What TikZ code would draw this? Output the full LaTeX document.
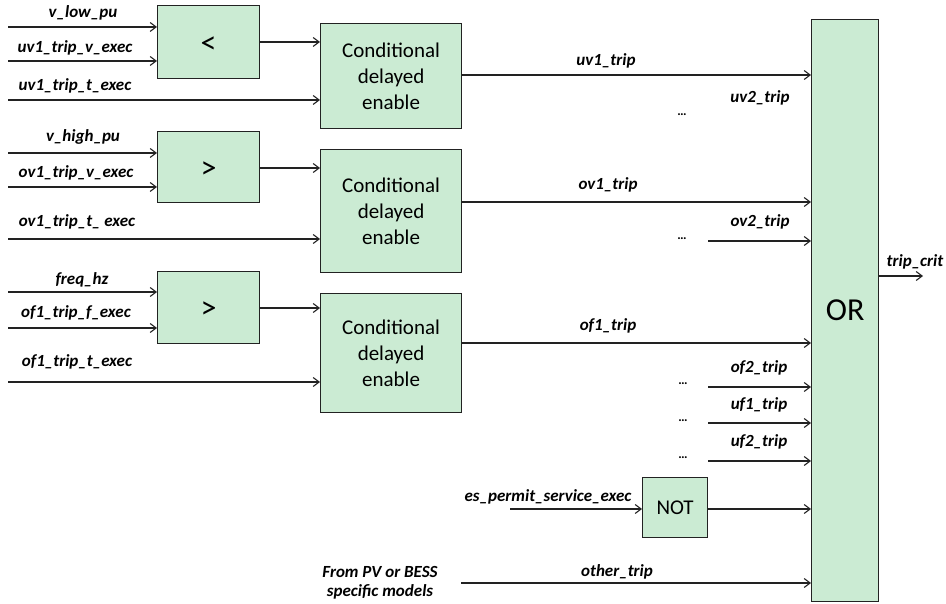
\documentclass[tikz,border=0pt]{standalone}
\usepackage{fontspec}
\setmainfont{Carlito}
\usetikzlibrary{arrows.meta}
\definecolor{blockgreen}{HTML}{CBEBD3}
\definecolor{linegray}{HTML}{222222}

\begin{document}
\begin{tikzpicture}[x=1pt,y=-1pt,
  blk/.style={draw=linegray, line width=1.2pt, fill=blockgreen, inner sep=0pt, anchor=north west},
  sig/.style={line width=1.2pt, draw=linegray,
    -{Straight Barb[length=6pt,width=9pt,line width=1.1pt]}},
  lbl/.style={font=\fontsize{17}{19}\selectfont\bfseries\itshape, inner sep=0pt},
  more/.style={font=\fontsize{13}{13}\selectfont\bfseries, inner sep=0pt},
  cmptext/.style={font=\fontsize{32}{32}\selectfont},
  cdetext/.style={font=\fontsize{21}{26}\selectfont, align=center}]

\useasboundingbox (0,0) rectangle (946,604);

% ---------------- comparison blocks ----------------
\node[blk, minimum width=102pt, minimum height=73pt] (cmpA) at (157,5) {};
\node[cmptext] at ([yshift=-3pt]cmpA.center) {<};
\node[blk, minimum width=102pt, minimum height=71pt] (cmpB) at (157,131) {};
\node[cmptext] at ([yshift=-3pt]cmpB.center) {>};
\node[blk, minimum width=102pt, minimum height=72pt] (cmpC) at (157,271) {};
\node[cmptext] at ([yshift=-3pt]cmpC.center) {>};

% ---------------- conditional delayed enable blocks ----------------
\node[blk, minimum width=141pt, minimum height=105pt] (cdeA) at (320,23) {};
\node[cdetext] at (cdeA.center) {Conditional\\delayed\\enable};
\node[blk, minimum width=141pt, minimum height=123pt] (cdeB) at (320,149) {};
\node[cdetext] at (cdeB.center) {Conditional\\delayed\\enable};
\node[blk, minimum width=141pt, minimum height=119pt] (cdeC) at (320,293) {};
\node[cdetext] at (cdeC.center) {Conditional\\delayed\\enable};

% ---------------- NOT and OR ----------------
\node[blk, minimum width=65pt, minimum height=60pt] (notb) at (642,477) {};
\node[font=\fontsize{21}{22}\selectfont] at (notb.center) {NOT};
\node[blk, minimum width=67pt, minimum height=582pt] (orb) at (811,19) {};
\node[font=\fontsize{32}{34}\selectfont] at (orb.center) {OR};

% ---------------- signal start points ----------------
\coordinate (vlow)  at (8,27);
\coordinate (uvv)   at (8,61);
\coordinate (uvt)   at (8,100);
\coordinate (vhigh) at (8,153);
\coordinate (ovv)   at (8,187);
\coordinate (ovt)   at (8,239);
\coordinate (fhz)   at (8,292);
\coordinate (off)   at (8,328);
\coordinate (oft)   at (8,382);
\coordinate (cmpAo) at (259,42);
\coordinate (cmpBo) at (259,168);
\coordinate (cmpCo) at (259,308);
\coordinate (cdeAo) at (461,75);
\coordinate (cdeBo) at (461,202);
\coordinate (cdeCo) at (461,343);
\coordinate (ov2s)  at (708,241);
\coordinate (of2s)  at (708,387);
\coordinate (uf1s)  at (708,423);
\coordinate (uf2s)  at (708,461);
\coordinate (ess)   at (510,509);
\coordinate (oth)   at (461,583);
\coordinate (crit)  at (923,276);

% ---------------- inputs ----------------
\draw[sig] (vlow)  -- (vlow -| cmpA.west);
\draw[sig] (uvv)   -- (uvv -| cmpA.west);
\draw[sig] (uvt)   -- (uvt -| cdeA.west);
\draw[sig] (vhigh) -- (vhigh -| cmpB.west);
\draw[sig] (ovv)   -- (ovv -| cmpB.west);
\draw[sig] (ovt)   -- (ovt -| cdeB.west);
\draw[sig] (fhz)   -- (fhz -| cmpC.west);
\draw[sig] (off)   -- (off -| cmpC.west);
\draw[sig] (oft)   -- (oft -| cdeC.west);

\node[lbl] at (83,13)  {v\_low\_pu};
\node[lbl] at (75,48)  {uv1\_trip\_v\_exec};
\node[lbl] at (75,86)  {uv1\_trip\_t\_exec};
\node[lbl] at (83,137) {v\_high\_pu};
\node[lbl] at (76,173) {ov1\_trip\_v\_exec};
\node[lbl] at (77,222) {ov1\_trip\_t\_ exec};
\node[lbl] at (82,280) {freq\_hz};
\node[lbl] at (76,313) {of1\_trip\_f\_exec};
\node[lbl] at (77,362) {of1\_trip\_t\_exec};

% ---------------- comparator to delay blocks ----------------
\draw[sig] (cmpAo) -- (cmpAo -| cdeA.west);
\draw[sig] (cmpBo) -- (cmpBo -| cdeB.west);
\draw[sig] (cmpCo) -- (cmpCo -| cdeC.west);

% ---------------- trip signals into OR ----------------
\draw[sig] (cdeAo) -- (cdeAo -| orb.west);
\draw[sig] (cdeBo) -- (cdeBo -| orb.west);
\draw[sig] (cdeCo) -- (cdeCo -| orb.west);
\draw[sig] (ov2s) -- (ov2s -| orb.west);
\draw[sig] (of2s) -- (of2s -| orb.west);
\draw[sig] (uf1s) -- (uf1s -| orb.west);
\draw[sig] (uf2s) -- (uf2s -| orb.west);
\draw[sig] (ess) -- (ess -| notb.west);
\draw[sig] (notb.east |- ess) -- (ess -| orb.west);
\draw[sig] (oth) -- (oth -| orb.west);
\draw[sig] (orb.east |- crit) -- (crit);

\node[lbl] at (606,61)  {uv1\_trip};
\node[lbl] at (760,98)  {uv2\_trip};
\node[more] at (682,115) {…};
\node[lbl] at (608,185) {ov1\_trip};
\node[lbl] at (760,222) {ov2\_trip};
\node[more] at (682,239) {…};
\node[lbl] at (608,326) {of1\_trip};
\node[lbl] at (759,368) {of2\_trip};
\node[more] at (683,384) {…};
\node[lbl] at (759,405) {uf1\_trip};
\node[more] at (683,421) {…};
\node[lbl] at (759,442) {uf2\_trip};
\node[more] at (683,458) {…};
\node[lbl] at (548,497) {es\_permit\_service\_exec};
\node[lbl] at (617,572) {other\_trip};
\node[lbl, align=center, font=\fontsize{17}{19}\selectfont\bfseries\itshape] at (380,582.5) {From PV or BESS\\specific models};
\node[lbl] at (915,262) {trip\_crit};

\end{tikzpicture}
\end{document}
